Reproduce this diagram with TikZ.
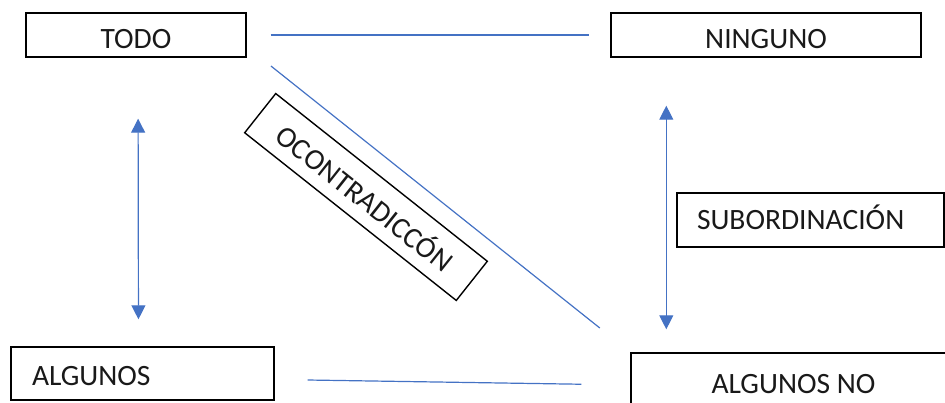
\documentclass[tikz,border=0pt]{standalone}
\usepackage{fontspec}
\setmainfont{Carlito}
\usetikzlibrary{arrows.meta}
\definecolor{lineblue}{RGB}{68,114,196}
\tikzset{box/.style={draw,rectangle,line width=1.4pt,inner sep=0pt,text=black!90,font=\fontsize{29.5}{33}\selectfont},lnk/.style={draw=lineblue,line width=1.2pt},arr/.style={lnk,{Triangle[length=14pt,width=14pt]}-{Triangle[length=14pt,width=14pt]}}}

\begin{document}
\begin{tikzpicture}[x=1pt,y=-1pt]
\clip (0,0) rectangle (945,403);
\node[box,minimum width=220pt,text height=36pt,text depth=8pt] (todo) at (136,35) {TODO};
\node[box,minimum width=310pt,text height=36pt,text depth=8pt] (ninguno) at (766,35) {NINGUNO};
\node[box,minimum width=263pt,text width=221pt,align=left,text height=38pt,text depth=15pt] (algunos) at (142.5,373.5) {ALGUNOS};
\node[box,minimum width=325pt,text height=40pt,text depth=20pt] (algunosno) at (793.5,383) {ALGUNOS NO};
\node[box,minimum width=267pt,text width=227pt,align=left,text height=37pt,text depth=17pt] (subord) at (810.5,220) {SUBORDINACIÓN};
\node[box,minimum width=270pt,minimum height=50pt,rotate=-38.4] (contra) at (366,197) {OCONTRADICCÓN};
\draw[lnk,shorten <=24pt,shorten >=21pt] (todo.east) -- (ninguno.west);
\draw[lnk,shorten <=31pt,shorten >=39pt] ([yshift=11pt]todo.south east) -- (algunosno.north west);
\draw[lnk,shorten <=33pt,shorten >=49pt] ([yshift=-6pt]algunos.east) -- ([yshift=-2pt]algunosno.west);
\draw[arr,shorten <=61pt,shorten >=27pt] ([xshift=2pt]todo.south) -- ([xshift=-4pt]algunos.north);
\draw[arr,shorten <=48pt,shorten >=23pt] ([xshift=56pt]ninguno.south west) -- ([xshift=36pt]algunosno.north west);
\end{tikzpicture}
\end{document}
